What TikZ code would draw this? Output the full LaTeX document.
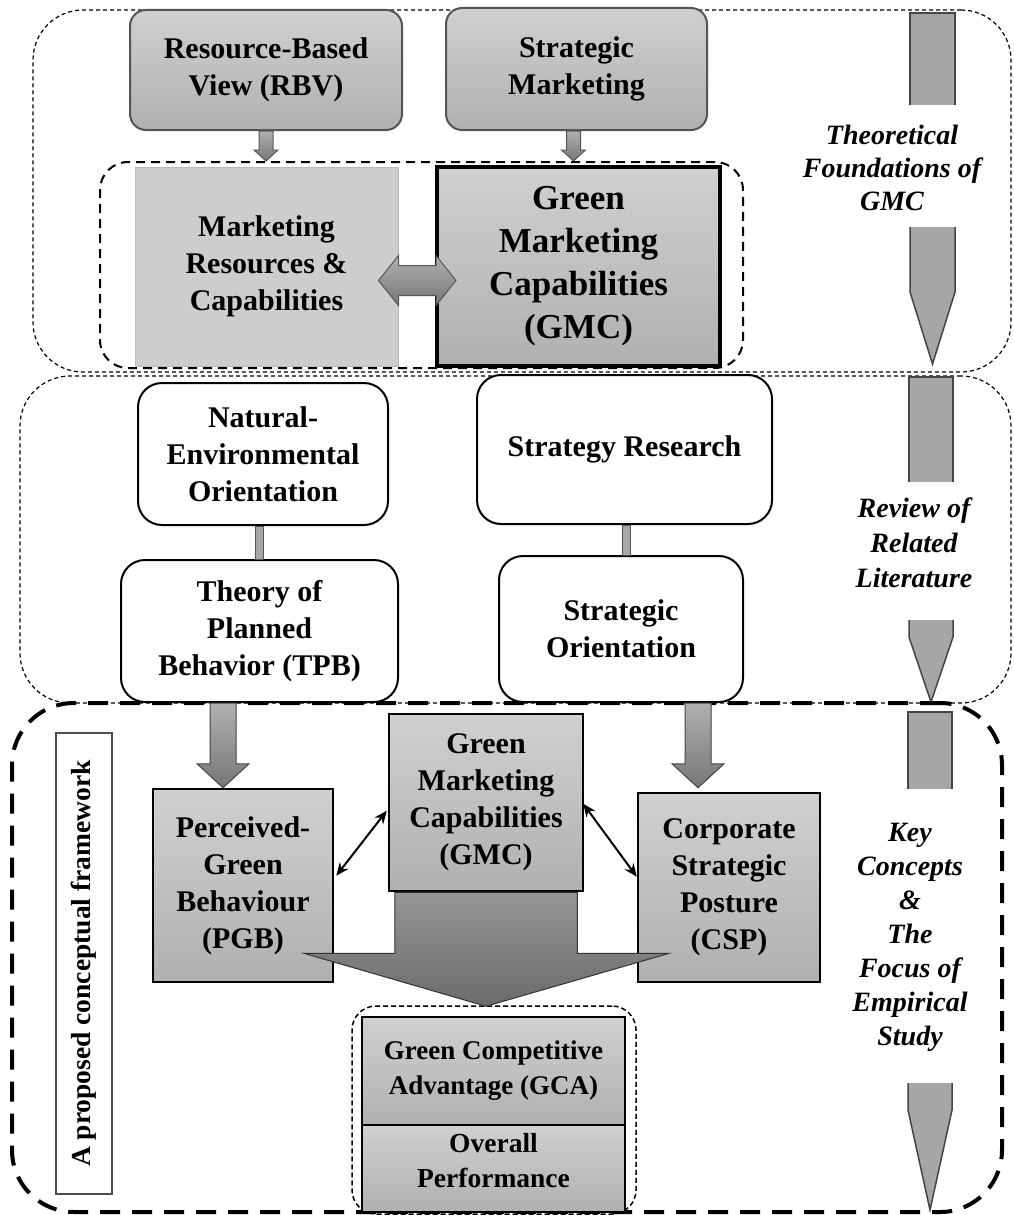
\documentclass[tikz,border=0pt]{standalone}
\usepackage{fontspec}
\setmainfont{Liberation Serif}
\usetikzlibrary{arrows.meta,calc}

\definecolor{boxtop}{HTML}{D0D0D0}
\definecolor{boxbot}{HTML}{B0B0B0}
\definecolor{edgegray}{HTML}{555555}
\definecolor{pencilfill}{HTML}{A6A6A6}
\definecolor{penciledge}{HTML}{454545}
\definecolor{arrtop}{HTML}{B0B0B0}
\definecolor{arrbot}{HTML}{777777}

% vertical block arrow: start, tip, half shaft, half head, head length, style
\newcommand\downblock[6]{%
  \path[#6] let \p1=(#1), \p2=(#2) in
    (\x1-#3,\y1) -- (\x1-#3,\y2+#5) -- (\x1-#4,\y2+#5) -- (\x1,\y2)
    -- (\x1+#4,\y2+#5) -- (\x1+#3,\y2+#5) -- (\x1+#3,\y1) -- cycle;}

% side marker: x-left, x-right, top, end of upper part, start of lower part, taper start, tip
\newcommand\pencilmark[7]{%
  \fill[pencilfill] (#1,#3) rectangle (#2,#4);
  \draw[penciledge,line width=1.5pt] (#1,#4) -- (#1,#3) -- (#2,#3) -- (#2,#4);
  \fill[pencilfill] (#1,#5) -- (#1,#6) -- ({(#1+#2)/2},#7) -- (#2,#6) -- (#2,#5) -- cycle;
  \draw[penciledge,line width=1.5pt] (#1,#5) -- (#1,#6) -- ({(#1+#2)/2},#7) -- (#2,#6) -- (#2,#5);}

\begin{document}
\begin{tikzpicture}[x=1pt,y=-1pt,
  txt/.style={font=\fontsize{30}{37}\selectfont\bfseries, align=center, text=black},
  side/.style={font=\fontsize{28}{34}\selectfont\bfseries\itshape, align=center},
  zone/.style={draw=black, line width=1.2pt, dash pattern=on 4pt off 3pt, rounded corners=50pt, inner sep=0pt},
  graybox/.style={txt, draw=edgegray, line width=2pt, rounded corners=16pt, top color=boxtop, bottom color=boxbot, inner sep=0pt},
  whitebox/.style={txt, draw=black, line width=2pt, rounded corners=24pt, fill=white, inner sep=0pt},
  sqbox/.style={txt, draw=black, line width=2.5pt, top color=boxtop, bottom color=boxbot, inner sep=0pt},
  smallarrow/.style={draw=edgegray, line width=1pt, top color=arrtop, bottom color=arrbot},
  bigarrow/.style={draw=penciledge, line width=1pt, top color=arrtop, bottom color=arrbot},
  bar/.style={draw=edgegray, line width=1pt, fill=gray!70},
  link/.style={black, line width=2pt, {Stealth[length=13pt,width=11pt]}-{Stealth[length=13pt,width=11pt]}}
]
\useasboundingbox[fill=white] (0,0) rectangle (1013,1215);

% ---------- theoretical foundations ----------
\node[zone, minimum width=978pt, minimum height=362pt] (zone1) at (522,191) {};
\node[graybox, minimum width=272pt, minimum height=120pt] (rbv) at (266,70) {Resource-Based\\View (RBV)};
\node[graybox, minimum width=261pt, minimum height=122pt] (strat) at (576.5,69) {Strategic\\Marketing};
\node[draw=black, line width=2pt, dash pattern=on 9pt off 6pt, rounded corners=28pt,
      minimum width=643pt, minimum height=206pt] (core) at (421.5,265) {};
\node[txt, draw=gray!55, line width=1pt, fill=boxtop!90!boxbot, inner sep=0pt,
      minimum width=263pt, minimum height=199pt] (mrc) at (266.5,266.5) {Marketing\\Resources \&\\Capabilities};
\node[sqbox, line width=4pt, font=\fontsize{35}{43}\selectfont\bfseries,
      minimum width=283pt, minimum height=199pt] (gmc1) at (578.5,266.5) {Green\\Marketing\\Capabilities\\(GMC)};

\coordinate (rbvtip) at (rbv.south |- core.north);
\coordinate (strattip) at ($(strat.south |- core.north)+(-3,0)$);
\downblock{rbv.south}{rbvtip}{7pt}{12pt}{11pt}{smallarrow}
\downblock{$(strat.south)+(-3,0)$}{strattip}{7pt}{12pt}{11pt}{smallarrow}

\coordinate (dl) at ($(mrc.east)+(-20,14)$);
\coordinate (dr) at ($(gmc1.west)+(21,14)$);
\path[smallarrow] let \p1=(dl), \p2=(dr) in
  (\x1,\y1) -- (\x1+20pt,\y1+25pt) -- (\x1+20pt,\y1+15pt) -- (\x2-20pt,\y1+15pt)
  -- (\x2-20pt,\y1+25pt) -- (\x2,\y1) -- (\x2-20pt,\y1-25pt) -- (\x2-20pt,\y1-15pt)
  -- (\x1+20pt,\y1-15pt) -- (\x1+20pt,\y1-25pt) -- cycle;

\pencilmark{910}{955}{13}{105}{227}{292}{364}
\node[side, font=\fontsize{28}{33}\selectfont\bfseries\itshape] (theo) at (892,168) {Theoretical\\Foundations of\\GMC};

% ---------- review of related literature ----------
\node[zone, minimum width=991pt, minimum height=327pt] (zone2) at (515.5,539.5) {};
\node[whitebox, minimum width=250pt, minimum height=142pt] (ne) at (263,454) {Natural-\\Environmental\\Orientation};
\node[whitebox, minimum width=277pt, minimum height=142pt] (tpb) at (259.5,631) {Theory of\\Planned\\Behavior (TPB)};
\node[whitebox, minimum width=295pt, minimum height=149pt] (sr) at (624.5,449.5) {Strategy Research};
\node[whitebox, minimum width=244pt, minimum height=146pt] (so) at (621,629) {Strategic\\Orientation};

\draw[bar] ($(ne.south)+(-8,0)$) rectangle ($(tpb.north -| ne.south)+(0,0)$);
\draw[bar] ($(sr.south)+(-2,0)$) rectangle ($(so.north -| sr.south)+(6,0)$);

\pencilmark{909}{953}{377}{482}{620}{637}{702}
\node[side, font=\fontsize{28}{35}\selectfont\bfseries\itshape] (rev) at (914,543) {Review of\\Related\\Literature};

% ---------- key concepts / proposed framework ----------
\node[draw=black, line width=4pt, dash pattern=on 20pt off 12pt, rounded corners=62pt,
      minimum width=990pt, minimum height=509pt] (zone3) at (507,957.5) {};
\node[txt, font=\fontsize{27.5}{33}\selectfont\bfseries, draw=gray!60!black, line width=1.2pt, fill=white,
      rotate=90, inner sep=0pt, minimum width=461pt, minimum height=56pt] (fw) at (84,963.5) {A proposed conceptual framework};

\coordinate (ltop) at (223,703);
\coordinate (rtop) at (698,703);
\node[sqbox, minimum width=180pt, minimum height=193pt] (pgb) at (243,885.5) {Perceived-\\Green\\Behaviour\\(PGB)};
\node[sqbox, minimum width=182pt, minimum height=189pt] (csp) at (729,887.5) {Corporate\\Strategic\\Posture\\(CSP)};
\coordinate (ltip) at (ltop |- pgb.north);
\coordinate (rtip) at ($(rtop |- csp.north)+(0,-4)$);
\downblock{ltop}{ltip}{13pt}{26pt}{24pt}{bigarrow}
\downblock{rtop}{rtip}{13pt}{26pt}{24pt}{bigarrow}

\node[draw=black, line width=1.5pt, dash pattern=on 5pt off 3pt, rounded corners=24pt,
      minimum width=284pt, minimum height=208pt] (gcazone) at (494,1110) {};

\node[sqbox, minimum width=194pt, minimum height=177pt] (gmc2) at (486,802.5) {Green\\Marketing\\Capabilities\\(GMC)};

% converging arrow from GMC towards the outcome block
\coordinate (mtip) at ($(gcazone.north)+(-8,1)$);
\path[draw=black!80, line width=1pt, top color=arrtop!85!black, bottom color=arrbot!90!black]
  ($(gmc2.south west)+(7,0)$) -- ($(gmc2.south west)+(7,61)$) -- ($(gmc2.south west)+(-84,61)$)
  -- (mtip) -- ($(gmc2.south east)+(85,61)$) -- ($(gmc2.south east)+(-7,61)$)
  -- ($(gmc2.south east)+(-7,0)$) -- cycle;

\draw[link] ($(pgb.north east)+(2,88)$) -- ($(gmc2.north west)+(-1,98)$);
\draw[link] ($(gmc2.north east)+(-1,91)$) -- ($(csp.north west)+(0,85)$);

\node[sqbox, line width=2pt, font=\fontsize{27}{35}\selectfont\bfseries,
      minimum width=263pt, minimum height=108pt] (gca) at (493.5,1071) {Green Competitive\\Advantage (GCA)};
\node[sqbox, line width=2pt, minimum width=263pt, minimum height=87pt] (ovp) at (493.5,1168.5) {};
\node[txt, font=\fontsize{27.5}{35}\selectfont\bfseries] (ovptext) at ($(ovp.center)+(0,-8)$) {Overall\\Performance};

\pencilmark{908}{952}{712}{789}{1083}{1110}{1210}
\node[side] (key) at (910,937) {Key\\Concepts\\\&\\The\\Focus of\\Empirical\\Study};
\end{tikzpicture}
\end{document}
